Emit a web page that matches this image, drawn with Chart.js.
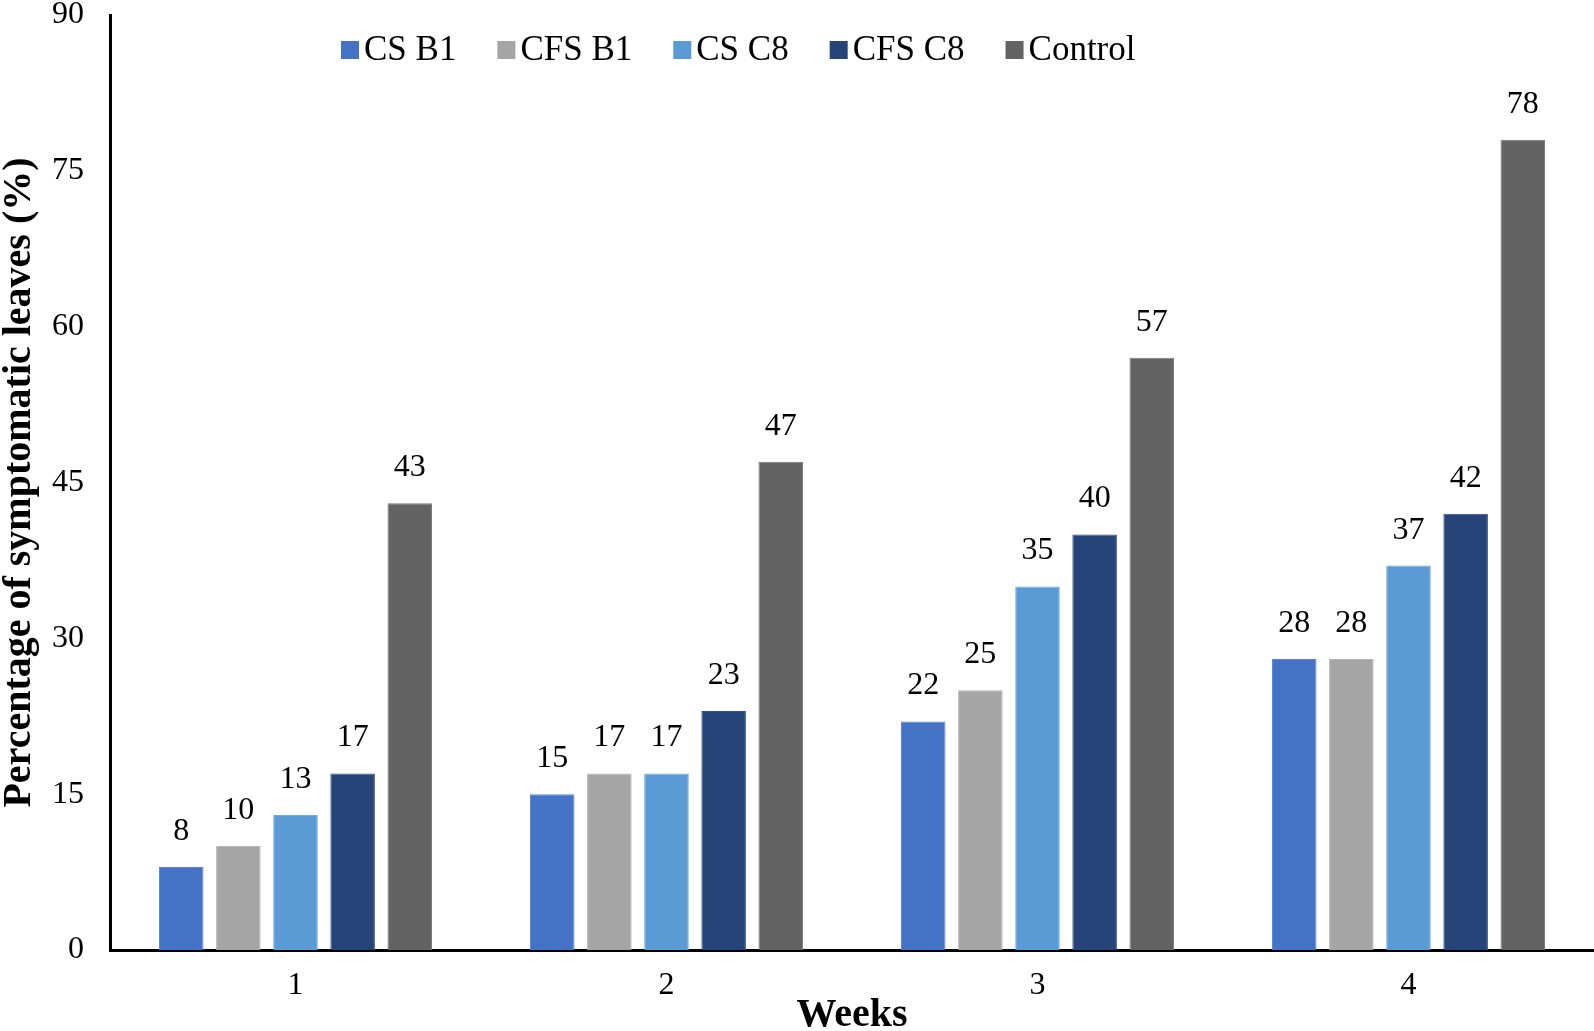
<!DOCTYPE html>
<html lang="en">
<head>
    <meta charset="UTF-8">
    <title>Percentage of symptomatic leaves</title>
    <script src="https://cdn.jsdelivr.net/npm/chart.js"></script>
    <style>
        html, body {
            margin: 0;
            padding: 0;
            background: #fff;
        }
        #wrap {
            width: 1594px;
            height: 1031px;
        }
    </style>
</head>
<body>
    <div id="wrap"><canvas id="leafChart" width="1594" height="1031"></canvas></div>
    <script>
        const weeks = ["1", "2", "3", "4"];
        const seriesNames = ["CS B1", "CFS B1", "CS C8", "CFS C8", "Control"];
        const csB1 = [8, 15, 22, 28];
        const cfsB1 = [10, 17, 25, 28];
        const csC8 = [13, 17, 35, 37];
        const cfsC8 = [17, 23, 40, 42];
        const control = [43, 47, 57, 78];
        const yTicks = [0, 15, 30, 45, 60, 75, 90];

        const colors = ["#4472C4", "#A5A5A5", "#5B9BD5", "#264478", "#636363"];
        const edges = ["#5585dd", "#b4b4b4", "#6cacea", "#2f5290", "#787878"];
        const serif = "'Liberation Serif', 'Times New Roman', serif";

        const allSeries = [csB1, cfsB1, csC8, cfsC8, control];

        // value labels above each bar
        const valueLabels = {
            id: "valueLabels",
            afterDatasetsDraw(chart) {
                const ctx = chart.ctx;
                ctx.save();
                ctx.font = "32px " + serif;
                ctx.fillStyle = "#000";
                ctx.textAlign = "center";
                ctx.textBaseline = "alphabetic";
                chart.data.datasets.forEach((ds, i) => {
                    chart.getDatasetMeta(i).data.forEach((bar, j) => {
                        ctx.fillText(ds.data[j], bar.x, bar.y - 27);
                    });
                });
                ctx.restore();
            }
        };

        // legend sitting inside the plot, near the top
        const insideLegend = {
            id: "insideLegend",
            afterDraw(chart) {
                const ctx = chart.ctx;
                ctx.save();
                ctx.font = "35px " + serif;
                ctx.textBaseline = "middle";
                let x = 341;
                const y = 50;
                chart.data.datasets.forEach(ds => {
                    ctx.fillStyle = ds.backgroundColor;
                    ctx.fillRect(x, y - 9, 18, 18);
                    x += 23;
                    ctx.fillStyle = "#000";
                    ctx.fillText(ds.label, x, y + 1);
                    x += ctx.measureText(ds.label).width + 41;
                });
                ctx.restore();
            }
        };

        new Chart(document.getElementById("leafChart"), {
            type: "bar",
            data: {
                labels: weeks,
                datasets: seriesNames.map((name, i) => ({
                    label: name,
                    data: allSeries[i],
                    backgroundColor: colors[i],
                    borderColor: edges[i],
                    borderWidth: 1,
                    categoryPercentage: 0.77,
                    barPercentage: 0.78
                }))
            },
            options: {
                responsive: false,
                animation: false,
                layout: {
                    padding: { top: 15, right: 0, left: 0, bottom: 0 }
                },
                plugins: {
                    legend: { display: false },
                    tooltip: { enabled: false }
                },
                scales: {
                    x: {
                        grid: { display: false },
                        border: { display: true, color: "#000", width: 3 },
                        ticks: {
                            color: "#000",
                            font: { family: serif, size: 32 },
                            padding: 8
                        },
                        title: {
                            display: true,
                            text: "Weeks",
                            color: "#000",
                            font: { family: serif, size: 40, weight: "bold", lineHeight: 1 },
                            padding: { top: 0, bottom: -5 }
                        },
                        afterFit(scale) {
                            scale.height = 81;
                            scale.paddingLeft = 0;
                            scale.paddingRight = 0;
                        }
                    },
                    y: {
                        min: 0,
                        max: 90,
                        afterBuildTicks(scale) {
                            scale.ticks = yTicks.map(v => ({ value: v }));
                        },
                        grid: { display: false },
                        border: { display: true, color: "#000", width: 3 },
                        ticks: {
                            color: "#000",
                            font: { family: serif, size: 32 },
                            padding: 18
                        },
                        title: {
                            display: true,
                            text: "Percentage of symptomatic leaves (%)",
                            color: "#000",
                            font: { family: serif, size: 40, weight: "bold", lineHeight: 1 },
                            padding: { top: 0, bottom: 0 }
                        },
                        afterFit(scale) {
                            scale.width = 110;
                            scale.paddingTop = 0;
                            scale.paddingBottom = 0;
                        }
                    }
                }
            },
            plugins: [valueLabels, insideLegend]
        });
    </script>
</body>
</html>
